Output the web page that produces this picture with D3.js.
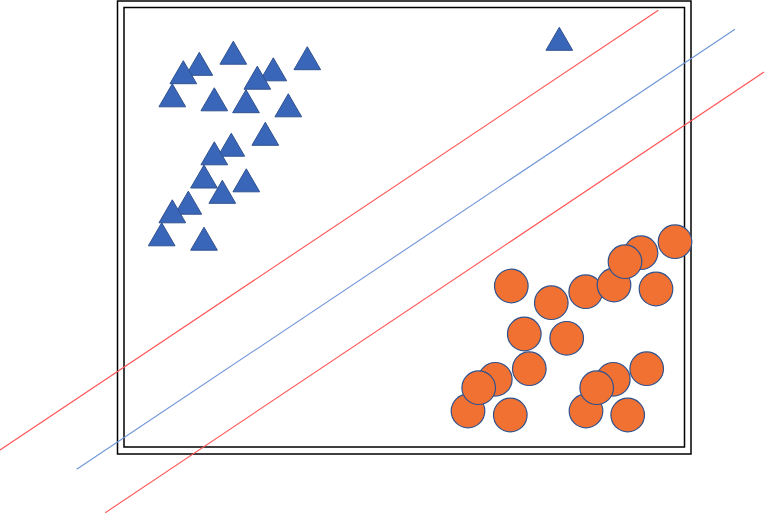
<!DOCTYPE html>
<html><head><meta charset="utf-8">
<script src="https://cdn.jsdelivr.net/npm/d3@7"></script>
<style>html,body{margin:0;padding:0;background:#fff;}svg{display:block;}</style>
</head><body>
<script>
// Class A (triangles): centre positions in data units
const triX = [109.3, 75.3, 59.3, 183.3, 149.3, 133.3, 48.3, 90.3, 122, 164.3, 141.3, 107.3, 90.3, 80, 122.3, 98.3, 64.3, 48.3, 37.7, 80, 435.3];
const triY = [394.3, 383.2, 374.8, 388.8, 377.7, 369.3, 351.7, 347.7, 345.8, 341.7, 313.2, 302.3, 293.7, 270.5, 266.7, 255.2, 244.3, 235.7, 212.7, 208.3, 408.2];
// Class B (circles)
const cirX = [517, 551, 532, 461.7, 490, 501, 427.3, 387.3, 400.3, 442.7, 405.3, 522.7, 371.3, 344, 354.7, 386.3, 489.3, 462, 472.7, 503.7];
const cirY = [194.3, 205.3, 158, 155.3, 162, 185.3, 144.3, 161, 113, 108.7, 78.3, 78.3, 67.7, 36, 59.3, 32, 67.7, 36, 59.3, 32];
// Decision boundary and margins: [x1, y1, x2, y2]
const lineNames = ["margin+", "boundary", "margin-"];
const lineCoords = [[-124, -3, 534.3, 436.7], [-47.3, -22.3, 611, 417.7], [-18.7, -65.7, 640, 375]];
const lineColors = ["#ff5555", "#6f95d8", "#ff5555"];

const W = 765, H = 514;
const svg = d3.select("body").append("svg").attr("width", W).attr("height", H);

const x = d3.scaleLinear().domain([0, 560.5]).range([124, 684.5]);
const y = d3.scaleLinear().domain([0, 439.5]).range([447, 7.5]);

// frames
svg.append("rect").attr("x", 117.5).attr("y", 1).attr("width", 573.5).attr("height", 453)
  .attr("fill", "none").attr("stroke", "#000").attr("stroke-width", 1.5);
svg.append("rect").attr("x", x(0)).attr("y", y(439.5)).attr("width", x(560.5) - x(0)).attr("height", y(0) - y(439.5))
  .attr("fill", "none").attr("stroke", "#000").attr("stroke-width", 1.5);

// lines
svg.selectAll("line.sv").data(lineCoords).join("line").attr("class", "sv")
  .attr("x1", d => x(d[0])).attr("y1", d => y(d[1]))
  .attr("x2", d => x(d[2])).attr("y2", d => y(d[3]))
  .attr("stroke", (d, i) => lineColors[i]).attr("stroke-width", 1.1);

// triangles
const tw = 26.7, th = 23;
const tri = triX.map((v, i) => ({ x: v, y: triY[i] }));
svg.selectAll("path.tri").data(tri).join("path").attr("class", "tri")
  .attr("d", d => {
    const cx = x(d.x), cy = y(d.y);
    return `M${cx},${cy - th / 2}L${cx + tw / 2},${cy + th / 2}L${cx - tw / 2},${cy + th / 2}Z`;
  })
  .attr("fill", "#3a66ba").attr("stroke", "#2f528f").attr("stroke-width", 1);

// circles
const cir = cirX.map((v, i) => ({ x: v, y: cirY[i] }));
svg.selectAll("circle.c").data(cir).join("circle").attr("class", "c")
  .attr("cx", d => x(d.x)).attr("cy", d => y(d.y)).attr("r", 16.8)
  .attr("fill", "#f07131").attr("stroke", "#2f528f").attr("stroke-width", 1.2);
</script>
</body></html>
